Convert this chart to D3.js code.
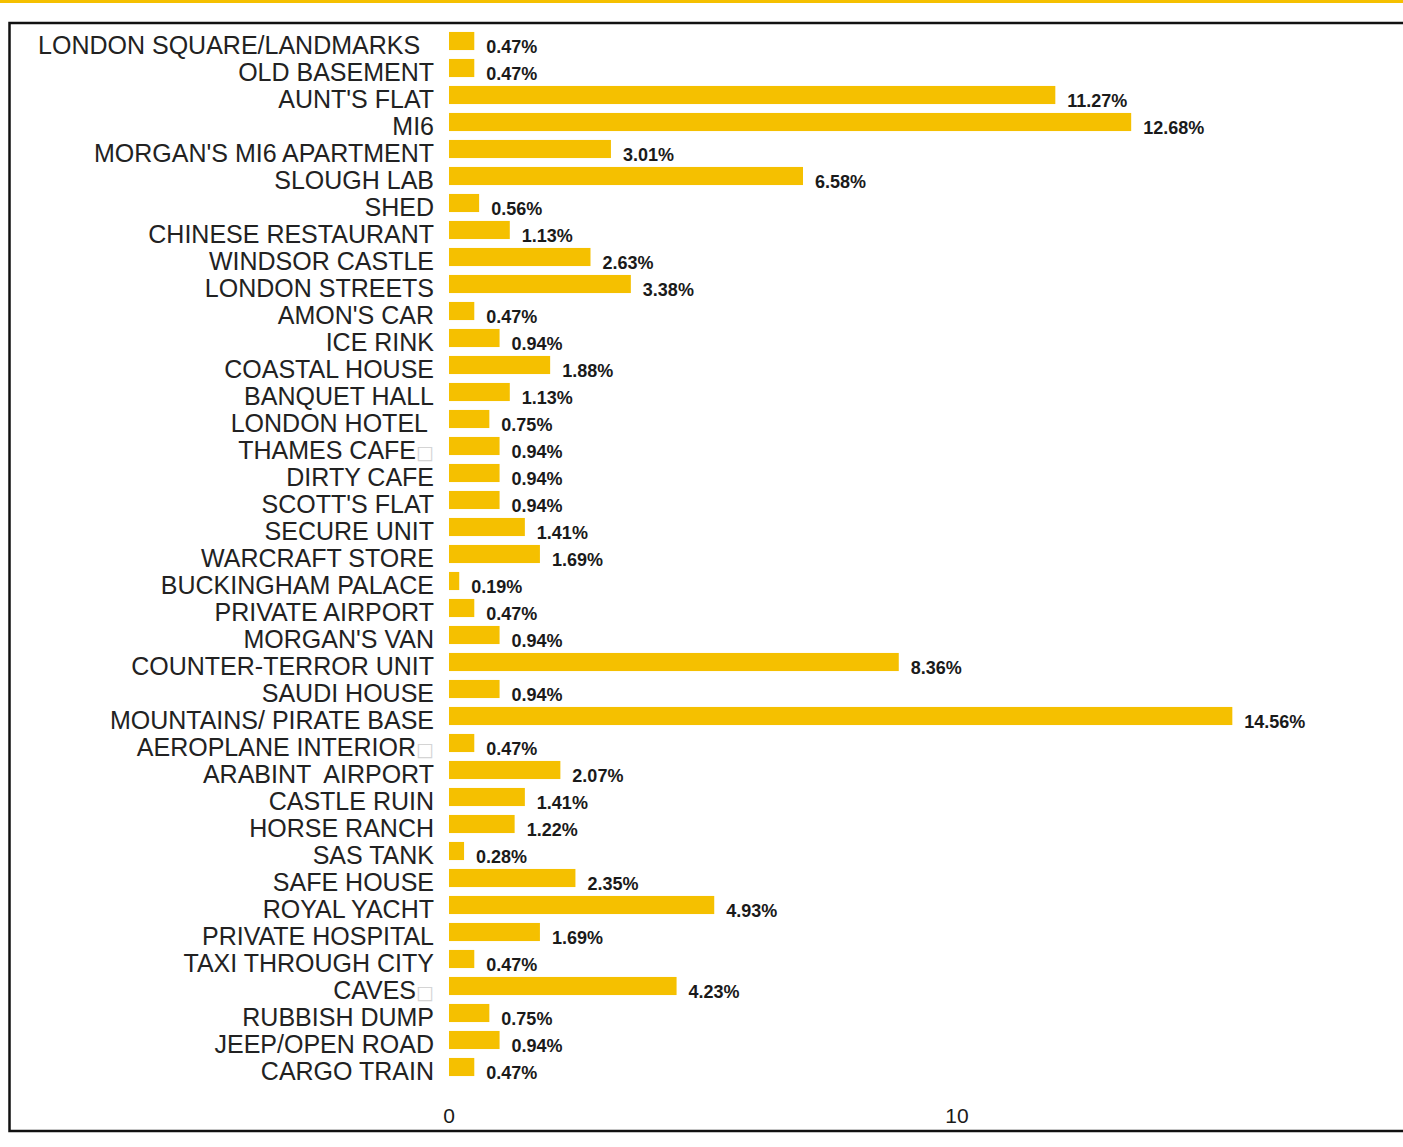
<!DOCTYPE html>
<html>
<head>
<meta charset="utf-8">
<script src="https://cdn.jsdelivr.net/npm/d3@7"></script>
<style>
    body { margin: 0; background: white; }
    svg { display: block; }
</style>
</head>
<body>
<div id="chart"></div>
<script>
// locations, top to bottom
const locations = [
    "LONDON SQUARE/LANDMARKS  ", "OLD BASEMENT", "AUNT'S FLAT", "MI6",
    "MORGAN'S MI6 APARTMENT", "SLOUGH LAB", "SHED", "CHINESE RESTAURANT",
    "WINDSOR CASTLE", "LONDON STREETS", "AMON'S CAR", "ICE RINK",
    "COASTAL HOUSE", "BANQUET HALL", "LONDON HOTEL ", "THAMES CAFE\u25A1",
    "DIRTY CAFE", "SCOTT'S FLAT", "SECURE UNIT", "WARCRAFT STORE",
    "BUCKINGHAM PALACE", "PRIVATE AIRPORT", "MORGAN'S VAN", "COUNTER-TERROR UNIT",
    "SAUDI HOUSE", "MOUNTAINS/ PIRATE BASE", "AEROPLANE INTERIOR\u25A1", "ARABINT  AIRPORT",
    "CASTLE RUIN", "HORSE RANCH", "SAS TANK", "SAFE HOUSE",
    "ROYAL YACHT", "PRIVATE HOSPITAL", "TAXI THROUGH CITY", "CAVES\u25A1",
    "RUBBISH DUMP", "JEEP/OPEN ROAD", "CARGO TRAIN"
];

// share of scenes, percent
const shares = [
    0.47, 0.47, 11.27, 12.68,
    3.01, 6.58, 0.56, 1.13,
    2.63, 3.38, 0.47, 0.94,
    1.88, 1.13, 0.75, 0.94,
    0.94, 0.94, 1.41, 1.69,
    0.19, 0.47, 0.94, 8.36,
    0.94, 14.56, 0.47, 2.07,
    1.41, 1.22, 0.28, 2.35,
    4.93, 1.69, 0.47, 4.23,
    0.75, 0.94, 0.47
];

const axisTicks = [0, 10];

const data = locations.map((name, i) => ({ name: name, value: shares[i] }));

const width = 1403;
const height = 1147;
const barColor = "#f5c000";

const svg = d3.select("#chart")
    .append("svg")
    .attr("width", width)
    .attr("height", height);

// yellow rule along the top
svg.append("rect")
    .attr("x", 0)
    .attr("y", 0)
    .attr("width", width)
    .attr("height", 3)
    .attr("fill", barColor);

// frame
svg.append("rect")
    .attr("x", 9.5)
    .attr("y", 23)
    .attr("width", width + 20)
    .attr("height", 1108)
    .attr("fill", "none")
    .attr("stroke", "#111")
    .attr("stroke-width", 2.5);

const x = d3.scaleLinear()
    .domain([0, 15])
    .range([449, 449 + 15 * 53.8]);

// the tick labels of the original do not line up with its bars
const xAxisScale = d3.scaleLinear()
    .domain([0, 10])
    .range([449, 957]);

const y = d3.scaleBand()
    .domain(locations)
    .range([27.5, 1080.5])
    .paddingInner(0.33)
    .paddingOuter(0.165);

svg.selectAll("rect.bar")
    .data(data)
    .enter()
    .append("rect")
    .attr("class", "bar")
    .attr("x", x(0))
    .attr("y", d => y(d.name))
    .attr("width", d => x(d.value) - x(0))
    .attr("height", y.bandwidth())
    .attr("fill", barColor);

// category labels
const labels = svg.selectAll("text.cat")
    .data(data)
    .enter()
    .append("text")
    .attr("class", "cat")
    .attr("x", 434)
    .attr("y", d => y(d.name) + y.bandwidth() / 2 + 4)
    .attr("dy", "0.35em")
    .attr("text-anchor", "end")
    .attr("xml:space", "preserve")
    .style("white-space", "pre")
    .style("font-family", "'Liberation Sans', Arial, sans-serif")
    .style("font-size", "25px")
    .attr("fill", "#222");

labels.each(function (d) {
    const t = d3.select(this);
    const box = d.name.indexOf("\u25A1");
    if (box >= 0) {
        t.append("tspan").text(d.name.slice(0, box));
        t.append("tspan")
            .attr("fill", "#d4d4d4")
            .style("font-size", "19px")
            .style("font-family", "'DejaVu Sans', sans-serif")
            .text("\u25A1");
    } else {
        t.text(d.name);
    }
});

// value labels
svg.selectAll("text.val")
    .data(data)
    .enter()
    .append("text")
    .attr("class", "val")
    .attr("x", d => x(d.value) + 12)
    .attr("y", d => y(d.name) + y.bandwidth() / 2 + 6)
    .attr("dy", "0.35em")
    .style("font-family", "'Liberation Sans', Arial, sans-serif")
    .style("font-size", "18px")
    .style("font-weight", "bold")
    .attr("fill", "#1a1a1a")
    .text(d => d.value.toFixed(2) + "%");

// x tick labels
svg.selectAll("text.tick")
    .data(axisTicks)
    .enter()
    .append("text")
    .attr("class", "tick")
    .attr("x", d => xAxisScale(d))
    .attr("y", 1116)
    .attr("dy", "0.35em")
    .attr("text-anchor", "middle")
    .style("font-family", "'Liberation Sans', Arial, sans-serif")
    .style("font-size", "21px")
    .attr("fill", "#1a1a1a")
    .text(d => d);
</script>
</body>
</html>
